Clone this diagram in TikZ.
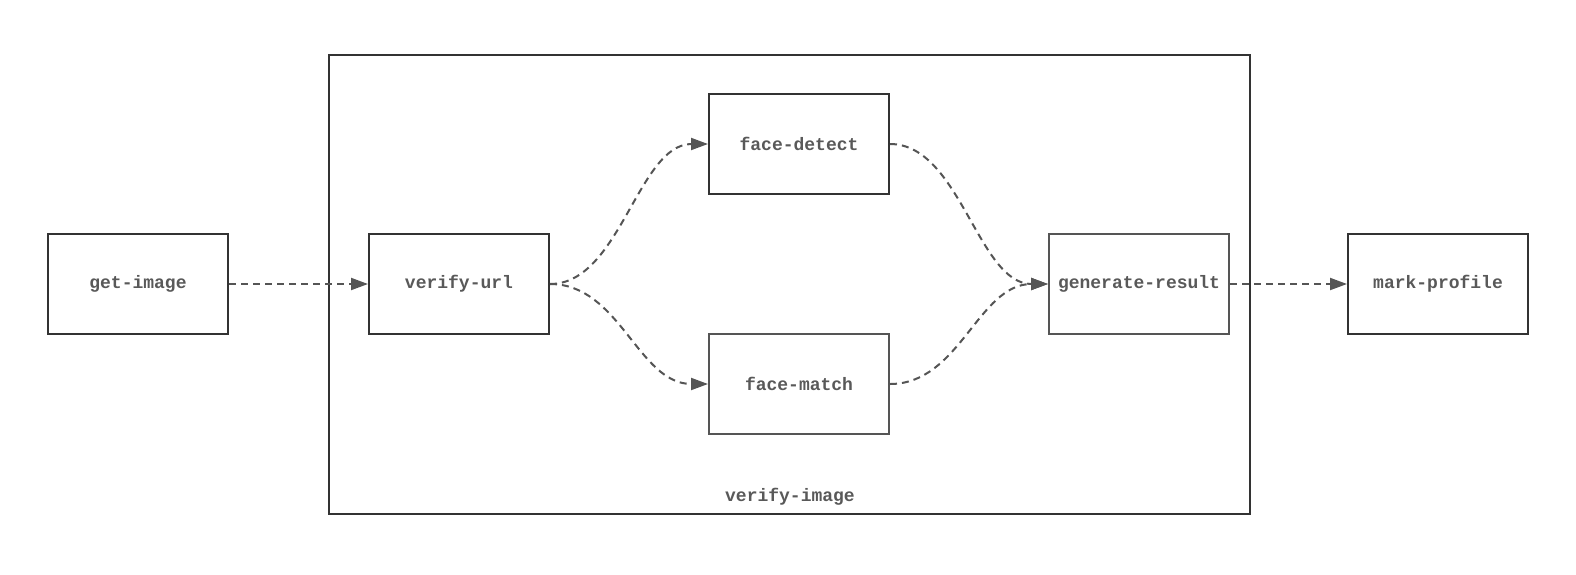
\documentclass[tikz,border=0pt]{standalone}
\usepackage{fontspec}
\setmonofont{Liberation Mono}
\usetikzlibrary{arrows.meta}
\definecolor{dk}{HTML}{333333}
\definecolor{md}{HTML}{555555}
\definecolor{tx}{HTML}{595959}
\tikzset{
  stepbox/.style={draw=dk, line width=2pt, minimum width=180pt, minimum height=100pt, inner sep=0pt,
    font=\ttfamily\bfseries\fontsize{18}{20}\selectfont, text=tx},
  lightbox/.style={stepbox, draw=md},
  flow/.style={draw=md, line width=2pt, dash pattern=on 7pt off 5pt, -{Triangle[length=17pt,width=12pt]}},
}
\begin{document}
\begin{tikzpicture}[x=1pt,y=-1pt]
\useasboundingbox[fill=white] (0,0) rectangle (1576,574);
\draw[draw=dk, line width=2pt] (329,55) rectangle (1250,514);
\node[font=\ttfamily\bfseries\fontsize{18}{20}\selectfont, text=tx] (lbl) at (790,497) {verify-image};
\node[stepbox] (gi) at (138,284) {get-image};
\node[stepbox] (vu) at (459,284) {verify-url};
\node[stepbox] (fd) at (799,144) {face-detect};
\node[lightbox] (fm) at (799,384) {face-match};
\node[lightbox] (gr) at (1139,284) {generate-result};
\node[stepbox] (mp) at (1438,284) {mark-profile};
\draw[flow] (gi) -- (vu);
\draw[flow] (vu.east) .. controls +(70,0) and +(-70,0) .. (fd.west);
\draw[flow] (vu.east) .. controls +(70,0) and +(-70,0) .. (fm.west);
\draw[flow] (fd.east) .. controls +(70,0) and +(-70,0) .. (gr.west);
\draw[flow] (fm.east) .. controls +(70,0) and +(-70,0) .. (gr.west);
\draw[flow] (gr) -- (mp);
\end{tikzpicture}
\end{document}
